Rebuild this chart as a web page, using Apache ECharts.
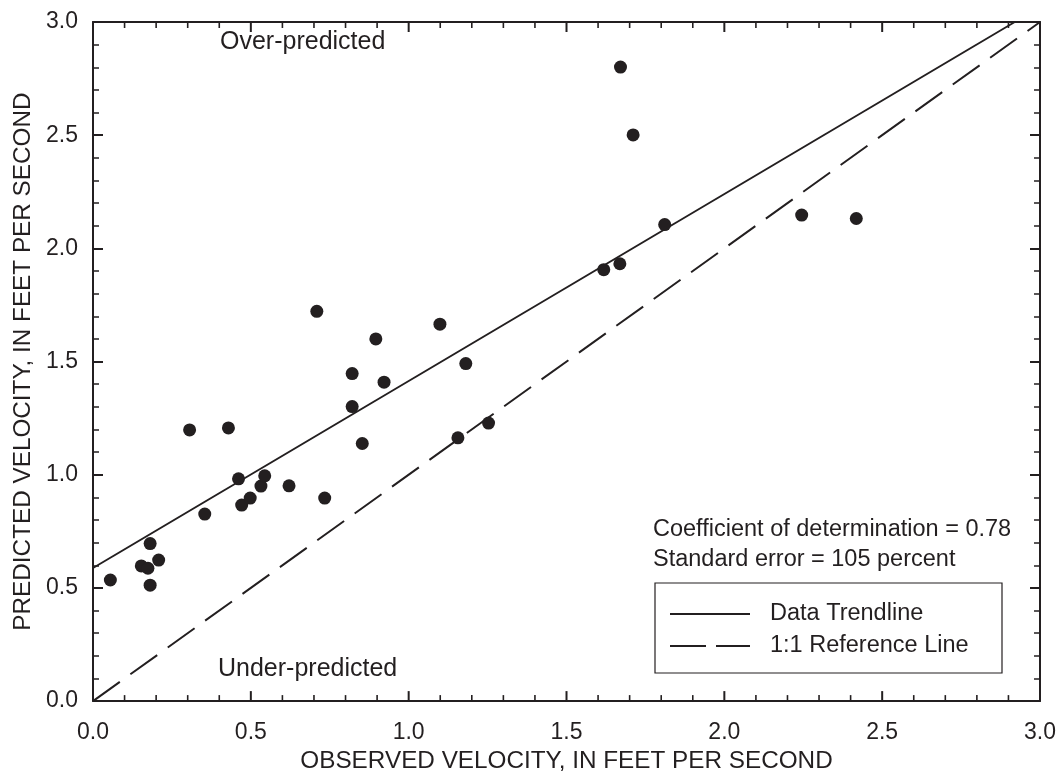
<!DOCTYPE html>
<html>
<head>
<meta charset="utf-8">
<script src="https://cdn.jsdelivr.net/npm/echarts@6/dist/echarts.min.js"></script>
<style>
  html, body { margin: 0; padding: 0; background: #fff; }
  #main { width: 1059px; height: 778px; }
</style>
</head>
<body>
<div id="main"></div>
<script>
// observed vs predicted velocity, ft/s
var observed = [0.055, 0.153, 0.174, 0.181, 0.208, 0.181, 0.306, 0.354, 0.429, 0.461, 0.471,
  0.498, 0.532, 0.544, 0.621, 0.709, 0.734, 0.821, 0.821, 0.853, 0.896, 0.922,
  1.099, 1.181, 1.156, 1.253, 1.618, 1.669, 1.671, 1.711, 1.811, 2.245, 2.418];
var predicted = [0.535, 0.597, 0.587, 0.696, 0.623, 0.512, 1.198, 0.826, 1.207, 0.982, 0.866,
  0.897, 0.950, 0.995, 0.951, 1.722, 0.897, 1.447, 1.301, 1.138, 1.600, 1.409,
  1.665, 1.491, 1.163, 1.228, 1.906, 1.932, 2.801, 2.501, 2.105, 2.147, 2.132];

var trendX = [0, 2.92];
var trendY = [0.588, 3.0];
var refX = [0, 3];
var refY = [0, 3];

// tick positions along the x frame (top and bottom)
var xTicks = [0.1, 0.2, 0.3, 0.4, 0.5, 0.6, 0.7, 0.8, 0.9, 1.0, 1.1, 1.2, 1.3, 1.4, 1.5,
  1.6, 1.7, 1.8, 1.9, 2.0, 2.1, 2.2, 2.3, 2.4, 2.5, 2.6, 2.7, 2.8, 2.9];

var seriesNames = ["Data Trendline", "1:1 Reference Line"];
var notes = ["Coefficient of determination = 0.78", "Standard error = 105 percent"];

var ink = "#231f20";
var font = "Liberation Sans";

function pairs(xs, ys) {
  var res = [];
  for (var i = 0; i < xs.length; i++) res.push([xs[i], ys[i]]);
  return res;
}

// major axis: frame line + long inward ticks every 0.5
function axisBase(pos, showLabels, ticks) {
  return {
    type: "value",
    position: pos,
    min: 0,
    max: 3,
    interval: 0.5,
    axisLine: { show: true, onZero: false, lineStyle: { color: ink, width: 2 } },
    axisTick: { show: ticks, inside: true, length: 10, lineStyle: { color: ink, width: 2 } },
    splitLine: { show: false },
    axisLabel: {
      show: showLabels,
      color: ink,
      fontFamily: font,
      fontSize: 23,
      formatter: function (v) { return v.toFixed(1); }
    }
  };
}

// minor axis: only short inward ticks every 0.1
function minorAxis(pos) {
  return {
    type: "value",
    position: pos,
    min: 0,
    max: 3,
    interval: 0.1,
    axisLine: { show: false, onZero: false },
    axisTick: { show: true, inside: true, length: 6, lineStyle: { color: ink, width: 1.5 } },
    splitLine: { show: false },
    axisLabel: { show: false }
  };
}

var xBottom = axisBase("bottom", true, false);
xBottom.name = "OBSERVED VELOCITY, IN FEET PER SECOND";
xBottom.nameLocation = "middle";
xBottom.nameGap = 42;
xBottom.nameTextStyle = { color: ink, fontFamily: font, fontSize: 24.3 };
xBottom.axisLabel.margin = 20;

var yLeft = axisBase("left", true, true);
yLeft.name = "PREDICTED VELOCITY, IN FEET PER SECOND";
yLeft.nameLocation = "middle";
yLeft.nameGap = 58;
yLeft.nameTextStyle = { color: ink, fontFamily: font, fontSize: 24.3 };
yLeft.axisLabel.margin = 15;

var legendBox = { left: 655, top: 583, width: 347, height: 90 };

var baseGraphic = [
  { type: "text", left: 220, top: 30, style: { text: "Over-predicted", fill: ink, font: "25px " + font } },
  { type: "text", left: 218, top: 657, style: { text: "Under-predicted", fill: ink, font: "25px " + font } },
  { type: "text", left: 653, top: 518, style: { text: notes[0], fill: ink, font: "23.5px " + font } },
  { type: "text", left: 653, top: 548, style: { text: notes[1], fill: ink, font: "23.5px " + font } },
  {
    type: "rect",
    shape: { x: legendBox.left, y: legendBox.top, width: legendBox.width, height: legendBox.height },
    style: { fill: "none", stroke: ink, lineWidth: 1.2 }
  },
  {
    type: "line",
    shape: { x1: 670, y1: 614, x2: 750, y2: 614 },
    style: { stroke: ink, lineWidth: 2 }
  },
  {
    type: "line",
    shape: { x1: 670, y1: 646, x2: 750, y2: 646 },
    style: { stroke: ink, lineWidth: 2, lineDash: [36, 10] }
  },
  { type: "text", x: 770, y: 614, style: { text: seriesNames[0], fill: ink, font: "23.5px " + font, verticalAlign: "middle" } },
  { type: "text", x: 770, y: 646, style: { text: seriesNames[1], fill: ink, font: "23.5px " + font, verticalAlign: "middle" } }
];

var myChart = echarts.init(document.getElementById("main"));
myChart.setOption({
  animation: false,
  backgroundColor: "#fff",
  grid: { left: 93, right: 18, top: 22, bottom: 76 },
  xAxis: [xBottom, axisBase("top", false, false)],
  yAxis: [yLeft, axisBase("right", false, true), minorAxis("left"), minorAxis("right")],
  graphic: baseGraphic,
  series: [
    {
      name: "points",
      type: "scatter",
      data: pairs(observed, predicted),
      symbolSize: 13,
      itemStyle: { color: ink, opacity: 1 },
      z: 3
    },
    {
      name: seriesNames[0],
      type: "line",
      data: pairs(trendX, trendY),
      symbol: "none",
      lineStyle: { color: ink, width: 2 }
    },
    {
      name: seriesNames[1],
      type: "line",
      data: pairs(refX, refY),
      symbol: "none",
      lineStyle: { color: ink, width: 2, type: [33, 13] }
    }
  ]
});

// x-frame ticks: positioned through the chart's own x/y scale
try {
  var tickEls = [];
  xTicks.forEach(function (v) {
    var b = myChart.convertToPixel({ gridIndex: 0 }, [v, 0]);
    var t = myChart.convertToPixel({ gridIndex: 0 }, [v, 3]);
    var major = Math.abs(v * 2 - Math.round(v * 2)) < 1e-6;
    var len = major ? 10 : 6;
    var w = major ? 2 : 1.6;
    tickEls.push({ type: "rect", z: 10, shape: { x: b[0] - w / 2, y: b[1] - len, width: w, height: len }, style: { fill: ink } });
    tickEls.push({ type: "rect", z: 10, shape: { x: t[0] - w / 2, y: t[1], width: w, height: len }, style: { fill: ink } });
  });
  myChart.setOption({ graphic: baseGraphic.concat(tickEls) });
} catch (e) {
  console.log(e);
}
</script>
</body>
</html>
